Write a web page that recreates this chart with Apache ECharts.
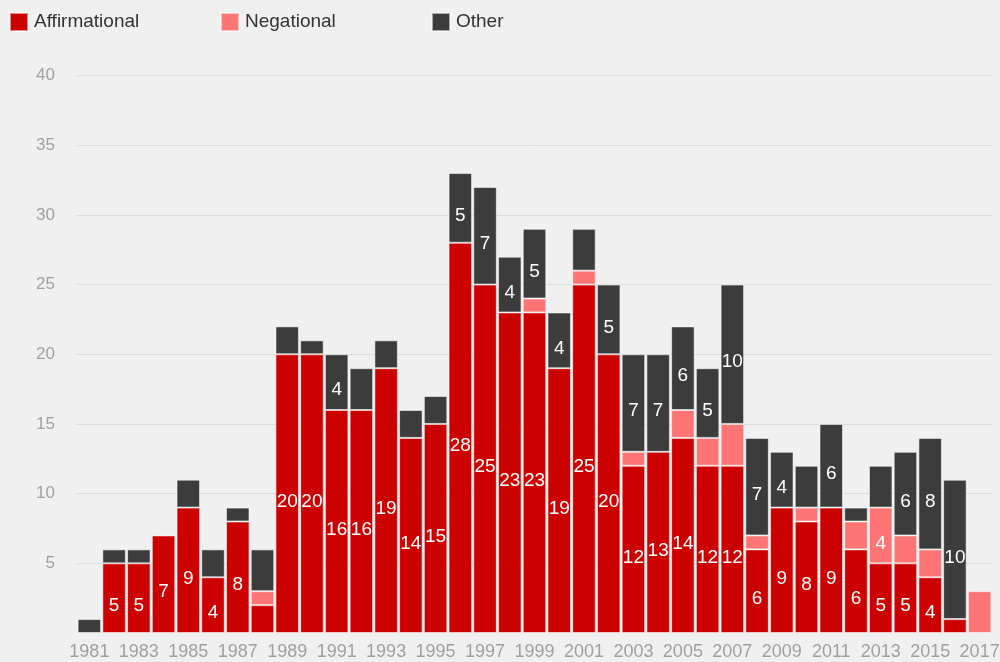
<!DOCTYPE html>
<html>
<head>
<meta charset="utf-8">
<script src="https://cdn.jsdelivr.net/npm/echarts@6/dist/echarts.min.js"></script>
<style>
html,body{margin:0;padding:0;background:#f0f0f0;}
#chart{width:1000px;height:662px;}
</style>
</head>
<body>
<div id="chart"></div>
<script>
const years = ['1981','1982','1983','1984','1985','1986','1987','1988','1989','1990','1991','1992','1993','1994','1995','1996','1997','1998','1999','2000','2001','2002','2003','2004','2005','2006','2007','2008','2009','2010','2011','2012','2013','2014','2015','2016','2017'];
const affirmational = [0,5,5,7,9,4,8,2,20,20,16,16,19,14,15,28,25,23,23,19,25,20,12,13,14,12,12,6,9,8,9,6,5,5,4,1,0];
const negational    = [0,0,0,0,0,0,0,1,0,0,0,0,0,0,0,0,0,0,1,0,1,0,1,0,2,2,3,1,0,1,0,2,4,2,2,0,3];
const other         = [1,1,1,0,2,2,1,3,2,1,4,3,2,2,2,5,7,4,5,4,3,5,7,7,6,5,10,7,4,3,6,1,3,6,8,10,0];
const yTicks = [0,5,10,15,20,25,30,35,40];

const FONT = '"Liberation Sans", Arial, Helvetica, sans-serif';
const chart = echarts.init(document.getElementById('chart'), null, {renderer:'canvas'});

function mkSeries(name, arr, color){
  return {
    name: name,
    type: 'bar',
    stack: 'total',
    barCategoryGap: '5%',
    data: arr.map(v => v === 0 ? null : v),
    itemStyle: {color: color, borderColor: 'rgba(255,255,255,0.55)', borderWidth: 1},
    label: {
      show: true,
      position: 'inside',
      offset: [0, 8],
      color: '#ffffff',
      fontFamily: FONT,
      fontSize: 19,
      textBorderWidth: 0,
      formatter: p => (p.value >= 4 ? String(p.value) : '')
    },
    emphasis: {disabled: true}
  };
}
function mkLegend(name, left){
  return {
    data: [name],
    left: left,
    top: 12,
    padding: 0,
    itemWidth: 18,
    itemHeight: 18,
    itemGap: 0,
    icon: 'rect',
    selectedMode: false,
    textStyle: {color: '#333333', fontSize: 19, fontFamily: FONT, padding: [0,0,0,1]}
  };
}

chart.setOption({
  backgroundColor: '#f0f0f0',
  animation: false,
  textStyle: {fontFamily: FONT},
  legend: [mkLegend('Affirmational', 9), mkLegend('Negational', 220), mkLegend('Other', 431)],
  grid: {left: 77, right: 8, top: 75.5, bottom: 29, containLabel: false, outerBoundsMode: 'none'},
  xAxis: {
    type: 'category',
    data: years,
    axisLine: {show: false},
    axisTick: {show: false},
    axisLabel: {interval: 1, color: '#a0a0a0', fontSize: 18, fontFamily: FONT, margin: 10}
  },
  yAxis: {
    type: 'value',
    min: yTicks[0],
    max: yTicks[yTicks.length-1],
    interval: yTicks[1] - yTicks[0],
    axisLine: {show: false},
    axisTick: {show: false},
    axisLabel: {color: '#a0a0a0', fontSize: 17, fontFamily: FONT, margin: 22, showMinLabel: false,
      formatter: v => (v === 0 ? '' : String(v))},
    splitLine: {show: true, showMinLine: false, lineStyle: {color: '#dcdcdc', width: 1}}
  },
  series: [
    mkSeries('Affirmational', affirmational, '#cc0000'),
    mkSeries('Negational', negational, '#ff7575'),
    mkSeries('Other', other, '#3c3c3c')
  ]
});
</script>
</body>
</html>
